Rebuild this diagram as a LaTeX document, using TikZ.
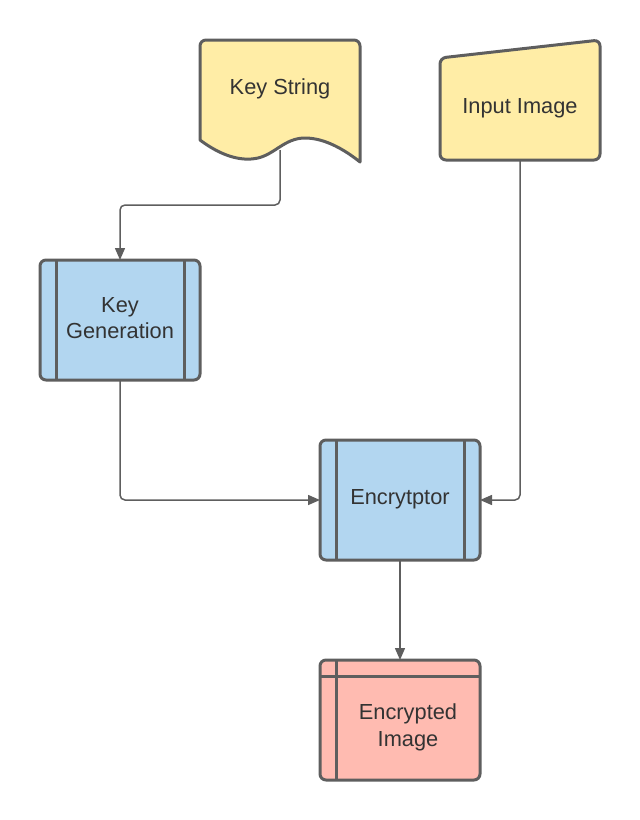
\documentclass[tikz,border=0pt]{standalone}
\usepackage{fontspec}
\setmainfont{Liberation Sans}
\usetikzlibrary{arrows.meta}
\definecolor{stroke}{HTML}{5E5E5E}
\definecolor{txt}{HTML}{333333}
\definecolor{yel}{HTML}{FFEDA6}
\definecolor{blu}{HTML}{B2D6F0}
\definecolor{red}{HTML}{FFBBB1}
\tikzset{
  shapeline/.style={draw=stroke, line width=3pt, line join=round},
  innerline/.style={draw=stroke, line width=3pt},
  label/.style={text=txt, font=\fontsize{21.8}{26.5}\selectfont, align=center},
  conn/.style={draw=stroke, line width=1.5pt, rounded corners=5pt, -{Triangle[length=12pt,width=10pt]}},
}
\begin{document}
\begin{tikzpicture}[x=1pt,y=-1pt]
\useasboundingbox (0,0) rectangle (640,820);
% anchor coordinates
\coordinate (ksb) at (280,150);
\coordinate (iib) at (520,160);
\coordinate (kgt) at (120,260);
\coordinate (kgb) at (120,380);
\coordinate (enl) at (320,500);
\coordinate (enr) at (480,500);
\coordinate (enb) at (400,560);
\coordinate (eit) at (400,660);
% connectors
\draw[conn] (ksb) |- (200,205) -| (kgt);
\draw[conn] (iib) |- (enr);
\draw[conn] (kgb) |- (enl);
\draw[conn] (enb) -- (eit);
% Key String (document)
\filldraw[shapeline, fill=yel] (200,140) [rounded corners=6pt] -- (200,40) -- (360,40) [sharp corners] -- (360,162)
  .. controls (345,150) and (325,138) .. (305,138)
  .. controls (285,138) and (275,154) .. (258,158)
  .. controls (240,162) and (220,155) .. (200,140) -- cycle;
\node[label] (ks) at (280,88.5) {Key String};
% Input Image (manual input)
\filldraw[shapeline, fill=yel, rounded corners=6pt] (440,58) -- (600,40) -- (600,160) -- (440,160) -- cycle;
\node[label] (ii) at (520,108.5) {Input Image};
% Key Generation
\filldraw[shapeline, fill=blu, rounded corners=6pt] (40,260) rectangle (200,380);
\draw[innerline] (56,260) -- (56,380) (184,260) -- (184,380);
\node[label] (kg) at (120,318) {Key\\Generation};
% Encryptor
\filldraw[shapeline, fill=blu, rounded corners=6pt] (320,440) rectangle (480,560);
\draw[innerline] (336,440) -- (336,560) (464,440) -- (464,560);
\node[label] (en) at (400,499) {Encrytptor};
% Encrypted Image
\filldraw[shapeline, fill=red, rounded corners=6pt] (320,660) rectangle (480,780);
\draw[innerline] (336,660) -- (336,780) (320,676) -- (480,676);
\node[label] (ei) at (408,727.5) {Encrypted\\Image};
\end{tikzpicture}
\end{document}
